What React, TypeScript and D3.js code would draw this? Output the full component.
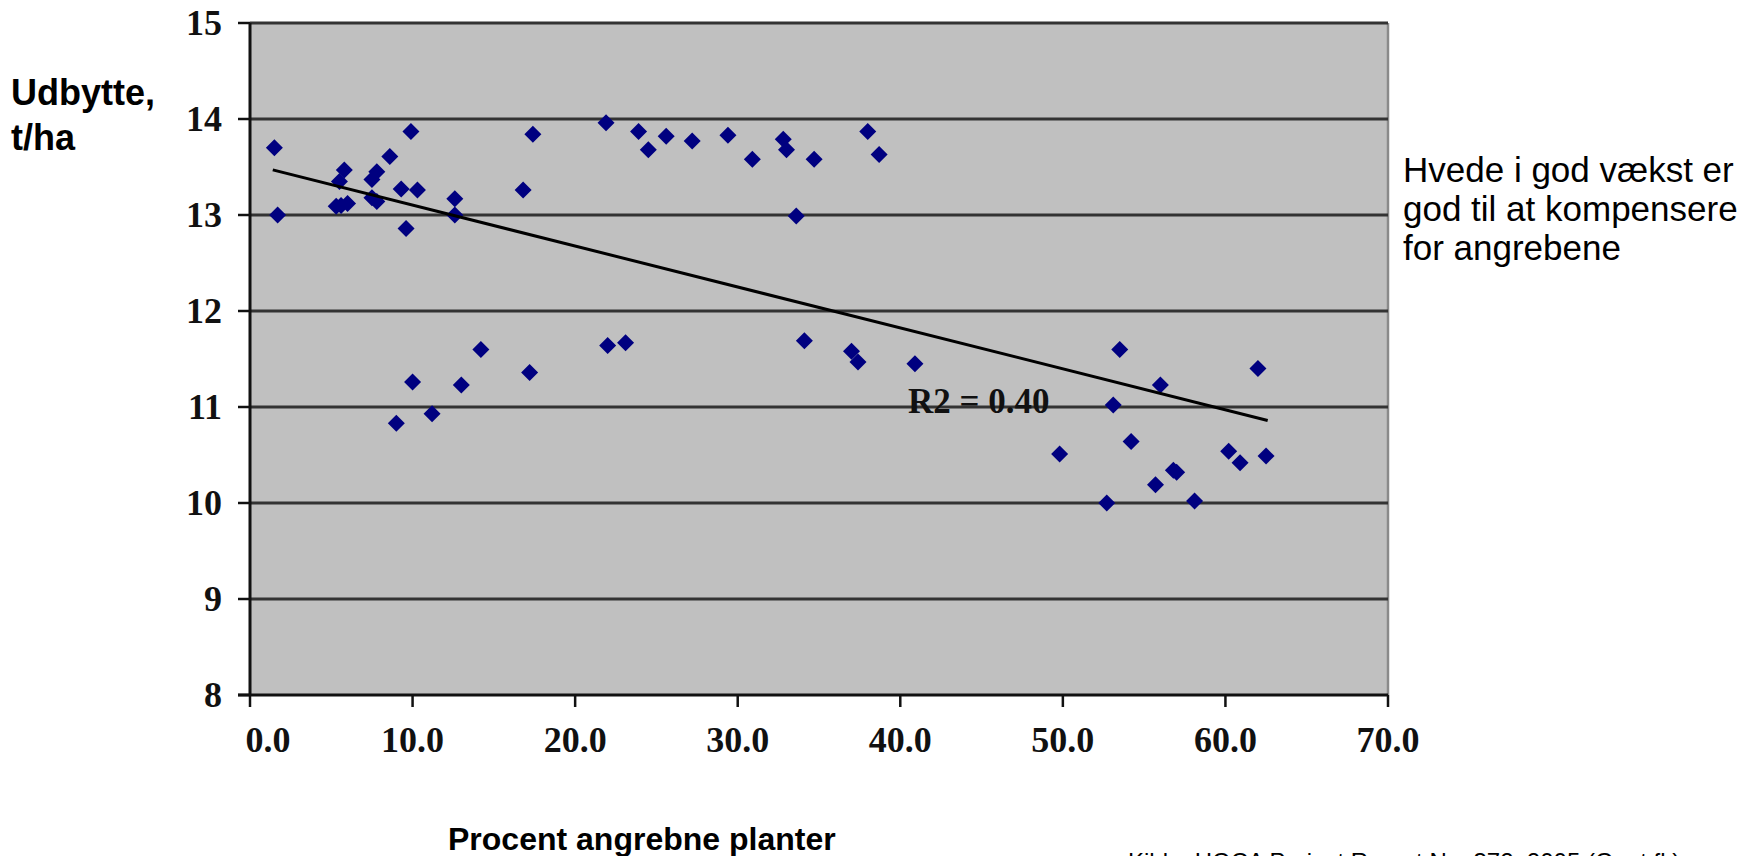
import React from "react";
import { scaleLinear, range } from "d3";

// Percent attacked plants vs. yield (t/ha)
const pctAttacked = [
  1.5, 1.7, 5.8, 5.5, 5.3, 5.6, 6.0, 7.5, 7.8, 7.5, 7.8, 8.6, 9.9, 9.3, 10.3, 9.6,
  12.6, 12.6, 16.8, 17.4, 21.9, 23.9, 24.5, 25.6, 27.2, 14.2, 10.0, 13.0, 9.0, 11.2,
  17.2, 22.0, 23.1, 29.4, 30.9, 32.8, 33.0, 34.7, 33.6, 38.0, 38.7, 34.1, 37.0, 37.4,
  40.9, 53.5, 53.1, 54.2, 49.8, 56.0, 62.0, 60.2, 60.9, 62.5, 56.8, 57.0, 55.7, 58.1,
  52.7,
];
const yieldTHa = [
  13.7, 13.0, 13.47, 13.35, 13.09, 13.1, 13.12, 13.37, 13.45, 13.18, 13.14, 13.61,
  13.87, 13.27, 13.26, 12.86, 13.17, 13.0, 13.26, 13.84, 13.96, 13.87, 13.68, 13.82,
  13.77, 11.6, 11.26, 11.23, 10.83, 10.93, 11.36, 11.64, 11.67, 13.83, 13.58, 13.79,
  13.68, 13.58, 12.99, 13.87, 13.63, 11.69, 11.58, 11.47, 11.45, 11.6, 11.02, 10.64,
  10.51, 11.23, 11.4, 10.54, 10.42, 10.49, 10.34, 10.32, 10.19, 10.02, 10.0,
];

// linear trend line end points
const trendX = [1.4, 62.6];
const trendY = [13.47, 10.86];
const r2Label = "R2 = 0.40";

const xTicks = range(0, 71, 10);
const yTicks = range(8, 16, 1);

const noteLines = ["Hvede i god vækst er", "god til at kompensere", "for angrebene"];
const yTitle = ["Udbytte,", "t/ha"];
const xTitle = "Procent angrebne planter";
const source = "Kilde: HGCA Project Report No. 372, 2005 (Gent fl.)";

const W = 1758;
const H = 856;
const left = 250;
const right = 1388;
const top = 23;
const bottom = 695;

export default function App() {
  const x = scaleLinear().domain([0, 70]).range([left, right]);
  const y = scaleLinear().domain([8, 15]).range([bottom, top]);

  const serif = "'Liberation Serif', 'Times New Roman', serif";
  const sans = "'Liberation Sans', Arial, sans-serif";

  const diamond = (cx: number, cy: number, r: number) =>
    `M${cx},${cy - r}L${cx + r},${cy}L${cx},${cy + r}L${cx - r},${cy}Z`;

  return (
    <svg
      width={W}
      height={H}
      style={{ position: "absolute", left: 0, top: 0, background: "#fff" }}
    >
      {/* plot area */}
      <rect x={left} y={top} width={right - left} height={bottom - top} fill="#c0c0c0" />
      <line x1={right} x2={right} y1={top} y2={bottom} stroke="#8a8a8a" strokeWidth={2.5} />

      {/* grid lines */}
      {yTicks
        .filter((t) => t > 8)
        .map((t) => (
          <line
            key={t}
            x1={left}
            x2={right}
            y1={y(t)}
            y2={y(t)}
            stroke="#333"
            strokeWidth={2.8}
          />
        ))}

      {/* axes */}
      <line x1={left} x2={left} y1={top} y2={bottom} stroke="#111" strokeWidth={3} />
      <line x1={left - 12} x2={right} y1={bottom} y2={bottom} stroke="#111" strokeWidth={3} />
      {yTicks.map((t) => (
        <g key={t}>
          <line x1={left - 12} x2={left} y1={y(t)} y2={y(t)} stroke="#111" strokeWidth={2.5} />
          <text
            x={222}
            y={y(t) + 12}
            textAnchor="end"
            fontFamily={serif}
            fontWeight="bold"
            fontSize={36}
            fill="#111"
          >
            {t}
          </text>
        </g>
      ))}
      {xTicks.map((t, i) => (
        <g key={t}>
          <line x1={x(t)} x2={x(t)} y1={bottom} y2={bottom + 12} stroke="#111" strokeWidth={2.5} />
          <text
            x={x(t) + (i === 0 ? 18 : 0)}
            y={752}
            textAnchor="middle"
            fontFamily={serif}
            fontWeight="bold"
            fontSize={36}
            fill="#111"
          >
            {t.toFixed(1)}
          </text>
        </g>
      ))}

      {/* points */}
      {pctAttacked.map((p, i) => (
        <path key={i} d={diamond(x(p), y(yieldTHa[i]), 8.5)} fill="#000080" />
      ))}

      {/* trend line */}
      <line
        x1={x(trendX[0])}
        y1={y(trendY[0])}
        x2={x(trendX[1])}
        y2={y(trendY[1])}
        stroke="#000"
        strokeWidth={3}
      />
      <text x={908} y={413} fontFamily={serif} fontWeight="bold" fontSize={35} fill="#111">
        {r2Label}
      </text>

      {/* titles */}
      {yTitle.map((s, i) => (
        <text
          key={s}
          x={11}
          y={105 + i * 45}
          fontFamily={sans}
          fontWeight="bold"
          fontSize={36}
          fill="#000"
        >
          {s}
        </text>
      ))}
      <text x={448} y={850} fontFamily={sans} fontWeight="bold" fontSize={32} fill="#000">
        {xTitle}
      </text>

      {noteLines.map((s, i) => (
        <text key={s} x={1403} y={182 + i * 39} fontFamily={sans} fontSize={35} fill="#000">
          {s}
        </text>
      ))}

      <text x={1128} y={870} fontFamily={sans} fontSize={24} fill="#000">
        {source}
      </text>
    </svg>
  );
}
